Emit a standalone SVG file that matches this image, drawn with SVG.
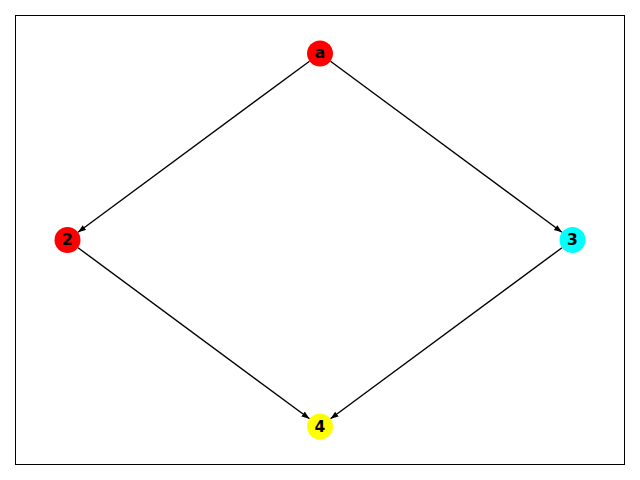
<svg xmlns="http://www.w3.org/2000/svg" width="640" height="480" viewBox="0 0 640 480">
<style>
.edge{stroke:#000;stroke-width:1.4;fill:none}
.node circle{stroke:none}
.node text{font-family:"DejaVu Sans",sans-serif;font-size:15.5px;font-weight:bold;fill:#000;text-anchor:middle;dominant-baseline:central}
</style>
<defs>
<marker id="arr" markerUnits="userSpaceOnUse" markerWidth="9" markerHeight="7" refX="8" refY="3" orient="auto">
<path d="M0,0 L8,3 L0,6 z" fill="#000"/>
</marker>
</defs>
<rect x="0" y="0" width="640" height="480" fill="#fff"/>
<rect x="15.5" y="15.5" width="609" height="449" fill="none" stroke="#000" stroke-width="1"/>
<g id="edges">
<line class="edge" x1="309.5" y1="61.2" x2="78" y2="232.3" marker-end="url(#arr)"/>
<line class="edge" x1="330.5" y1="61.2" x2="562" y2="232.3" marker-end="url(#arr)"/>
<line class="edge" x1="78" y1="247.7" x2="309.5" y2="418.8" marker-end="url(#arr)"/>
<line class="edge" x1="562" y1="247.7" x2="330.5" y2="418.8" marker-end="url(#arr)"/>
</g>
<g id="node-a" class="node"><circle cx="320" cy="53.5" r="13" fill="#ff0000"/><text x="320" y="53">a</text></g>
<g id="node-2" class="node"><circle cx="67.5" cy="240" r="13" fill="#ff0000"/><text x="67.5" y="239.5">2</text></g>
<g id="node-3" class="node"><circle cx="572.5" cy="240" r="13" fill="#00ffff"/><text x="572.5" y="239.5">3</text></g>
<g id="node-4" class="node"><circle cx="320" cy="426.5" r="13" fill="#ffff00"/><text x="320" y="426.5">4</text></g>
</svg>
